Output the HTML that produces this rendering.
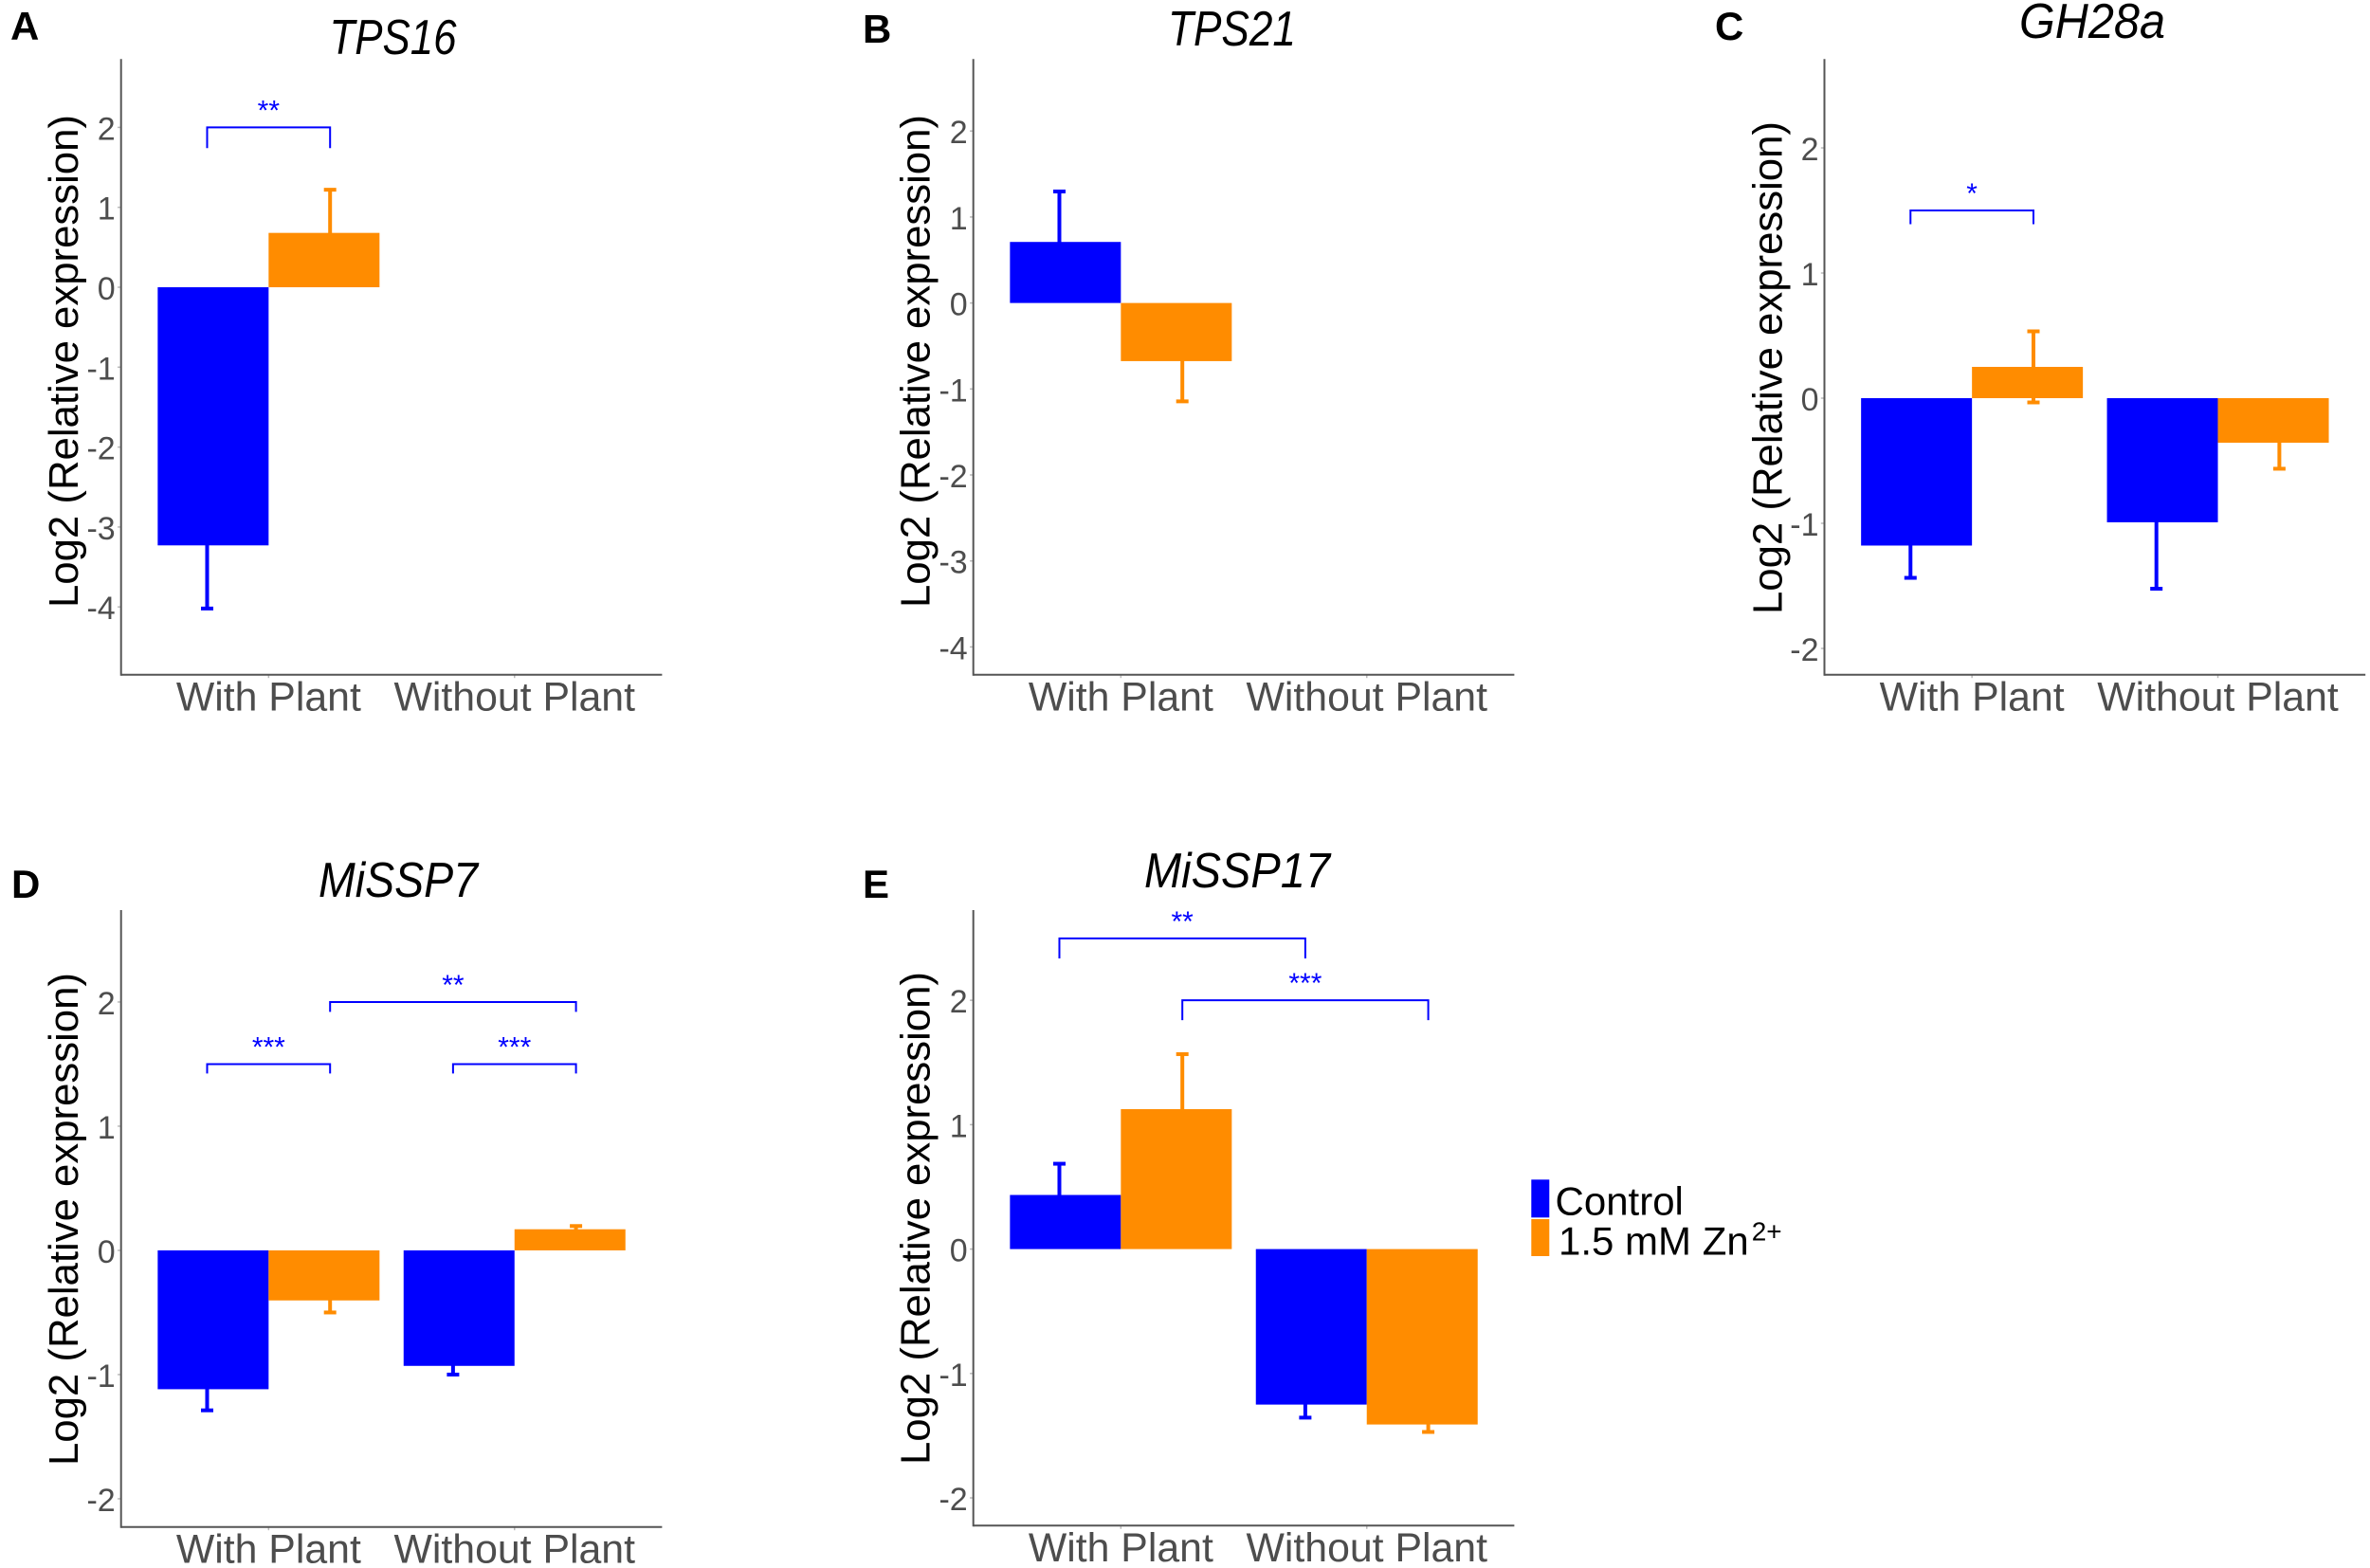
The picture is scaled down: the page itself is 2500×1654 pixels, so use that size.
<!DOCTYPE html>
<html lang="en">
<head>
<meta charset="utf-8">
<title>Log2 relative expression panels</title>
<style>
html,body{margin:0;padding:0;background:#fff;}
svg{display:block;font-family:"Liberation Sans",sans-serif;}
</style>
</head>
<body>
<svg id="figure" xmlns="http://www.w3.org/2000/svg" width="2500" height="1654" viewBox="0 0 2500 1654">
<rect x="0" y="0" width="2500" height="1654" fill="#fff"/>
<g>
<rect x="1615.3" y="1244.3" width="19" height="40" fill="#0000ff"/>
<rect x="1615.3" y="1286" width="19" height="39" fill="#ff8c00"/>
<text x="1640.5" y="1281.7" font-size="42" fill="#000">Control</text>
<text x="1644" y="1323.3" font-size="42" fill="#000">1.5 mM Zn<tspan font-size="28" dx="3" dy="-15">2+</tspan></text>
</g>
</svg>
<script>
// ---- Data ----
const categories = ['With Plant', 'Without Plant'];

const tps16Ticks = ['2', '1', '0', '-1', '-2', '-3', '-4'];
const tps16Control = [-3.23, null];
const tps16Zinc = [0.68, null];
const tps16ControlErr = [0.79, null];
const tps16ZincErr = [0.54, null];

const tps21Ticks = ['2', '1', '0', '-1', '-2', '-3', '-4'];
const tps21Control = [0.71, null];
const tps21Zinc = [-0.676, null];
const tps21ControlErr = [0.587, null];
const tps21ZincErr = [0.468, null];

const gh28aTicks = ['2', '1', '0', '-1', '-2'];
const gh28aControl = [-1.178, -0.992];
const gh28aZinc = [0.25, -0.356];
const gh28aControlErr = [0.258, 0.531];
const gh28aZincErr = [0.284, 0.208];

const missp7Ticks = ['2', '1', '0', '-1', '-2'];
const missp7Control = [-1.118, -0.93];
const missp7Zinc = [-0.403, 0.17];
const missp7ControlErr = [0.17, 0.07];
const missp7ZincErr = [0.097, 0.026];

const missp17Ticks = ['2', '1', '0', '-1', '-2'];
const missp17Control = [0.435, -1.25];
const missp17Zinc = [1.125, -1.41];
const missp17ControlErr = [0.251, 0.105];
const missp17ZincErr = [0.442, 0.06];

// Significance brackets: from / to in category units, height and foot in data units
const tps16BracketFrom = [-0.25];
const tps16BracketTo = [0.25];
const tps16BracketY = [2.0];
const tps16BracketFoot = [1.74];
const tps16BracketStars = ['**'];

const gh28aBracketFrom = [-0.25];
const gh28aBracketTo = [0.25];
const gh28aBracketY = [1.5];
const gh28aBracketFoot = [1.39];
const gh28aBracketStars = ['*'];

const missp7BracketFrom = [-0.25, 0.75, 0.25];
const missp7BracketTo = [0.25, 1.25, 1.25];
const missp7BracketY = [1.5, 1.5, 2.0];
const missp7BracketFoot = [1.424, 1.424, 1.92];
const missp7BracketStars = ['***', '***', '**'];

const missp17BracketFrom = [-0.25, 0.25];
const missp17BracketTo = [0.75, 1.25];
const missp17BracketY = [2.497, 2.0];
const missp17BracketFoot = [2.336, 1.84];
const missp17BracketStars = ['**', '***'];

const BLUE = '#0000ff';
const ORANGE = '#ff8c00';
const SVGNS = 'http://www.w3.org/2000/svg';
const svg = document.getElementById('figure');

function make(parent, tag, attrs) {
  const node = document.createElementNS(SVGNS, tag);
  for (const k in attrs) node.setAttribute(k, attrs[k]);
  parent.appendChild(node);
  return node;
}

function drawPanel(p) {
  const group = make(svg, 'g', {});
  
  

  const band = 259.4;
  const xPos = function (c) { return p.left + (c + 0.6) * band; };
  const yPos = function (v) {
    return p.top + (p.yMax - v) / (p.yMax - p.yMin) * (p.bottom - p.top);
  };

  // panel letter
  const letter = make(group, 'text', { x: p.letterX, y: p.letterY, 'font-size': 42, 'font-weight': 'bold', fill: '#000' });
  letter.textContent = p.letter;
  
  

  // title
  const title = make(group, 'text', {
    x: p.titleX, y: p.titleY, 'font-size': 52, 'font-style': 'italic', fill: '#000',
    textLength: p.titleW, lengthAdjust: 'spacingAndGlyphs'
  });
  title.textContent = p.title;
  
  

  // y title
  const yTitle = make(group, 'text', {
    x: 0, y: 0, 'font-size': 44, fill: '#000',
    transform: 'translate(' + p.yTitleX + ' ' + p.yTitleY + ') rotate(-90)',
    textLength: 520, lengthAdjust: 'spacingAndGlyphs'
  });
  yTitle.textContent = 'Log2 (Relative expression)';
  
  

  // y ticks
  p.ticks.forEach(function (t) {
    const tick = make(group, 'line', {
      x1: p.left - 3.7, x2: p.left, y1: yPos(Number(t)), y2: yPos(Number(t)),
      stroke: '#bbb', 'stroke-width': 1.5
    });
    
    
    const label = make(group, 'text', {
      x: p.left - 6, y: yPos(Number(t)) + 13, 'font-size': 34, fill: '#4d4d4d', 'text-anchor': 'end'
    });
    label.textContent = t;
    
    
  });

  // x categories
  categories.forEach(function (c, i) {
    const tick = make(group, 'line', {
      x1: xPos(i), x2: xPos(i), y1: p.bottom, y2: p.bottom + 3.5, stroke: '#bbb', 'stroke-width': 1.5
    });
    
    
    const label = make(group, 'text', {
      x: xPos(i), y: p.bottom + 37.6, 'font-size': 42.8, fill: '#4d4d4d', 'text-anchor': 'middle'
    });
    label.textContent = c;
    
    
  });

  // error bars (behind the bars)
  function errorBar(cat, offset, mean, err, colour) {
    if (mean === null) return;
    const x = xPos(cat + offset);
    const hi = yPos(mean + err), lo = yPos(mean - err);
    const stem = make(group, 'line', { x1: x, x2: x, y1: hi, y2: lo, stroke: colour, 'stroke-width': 4 });
    
    
    [hi, lo].forEach(function (yy) {
      const cap = make(group, 'line', { x1: x - 6.5, x2: x + 6.5, y1: yy, y2: yy, stroke: colour, 'stroke-width': 4 });
      
      
    });
  }
  categories.forEach(function (c, i) {
    errorBar(i, -0.25, p.control[i], p.controlErr[i], BLUE);
    errorBar(i, 0.25, p.zinc[i], p.zincErr[i], ORANGE);
  });

  // bars
  function bar(cat, from, to, value, colour) {
    if (value === null) return;
    const y0 = yPos(0), y1 = yPos(value);
    const rect = make(group, 'rect', {
      x: xPos(cat + from), width: xPos(cat + to) - xPos(cat + from),
      y: Math.min(y0, y1), height: Math.abs(y1 - y0), fill: colour
    });
    
    
  }
  categories.forEach(function (c, i) {
    bar(i, -0.451, 0, p.control[i], BLUE);
    bar(i, 0, 0.451, p.zinc[i], ORANGE);
  });

  // axes
  const yAxis = make(group, 'line', { x1: p.left, x2: p.left, y1: p.top, y2: p.bottom + 1, stroke: '#555', 'stroke-width': 2 });
  
  
  const xAxis = make(group, 'line', { x1: p.left, x2: p.left + 2.2 * band, y1: p.bottom, y2: p.bottom, stroke: '#555', 'stroke-width': 2 });
  
  

  // brackets
  p.bFrom.forEach(function (f, i) {
    const xa = xPos(f), xb = xPos(p.bTo[i]);
    const yy = yPos(p.bY[i]), ft = yPos(p.bFoot[i]);
    const path = make(group, 'path', {
      d: 'M' + xa + ' ' + ft + 'V' + yy + 'H' + xb + 'V' + ft,
      fill: 'none', stroke: BLUE, 'stroke-width': 2
    });
    
    
    const stars = make(group, 'text', {
      x: (xa + xb) / 2, y: yy - 8, 'font-size': 30, fill: BLUE, 'text-anchor': 'middle'
    });
    stars.textContent = p.bStars[i];
    
    
  });
}

drawPanel({
  key: 'tps16', letter: 'A', letterX: 11, letterY: 42, title: 'TPS16', titleX: 347.5, titleY: 57, titleW: 134,
  left: 127.7, top: 62.3, bottom: 711.7, yMax: 2.855, yMin: -4.848,
  yTitleX: 82, yTitleY: 641, ticks: tps16Ticks,
  control: tps16Control, zinc: tps16Zinc, controlErr: tps16ControlErr, zincErr: tps16ZincErr,
  bFrom: tps16BracketFrom, bTo: tps16BracketTo, bY: tps16BracketY, bFoot: tps16BracketFoot, bStars: tps16BracketStars
});
drawPanel({
  key: 'tps21', letter: 'B', letterX: 910, letterY: 45, title: 'TPS21', titleX: 1232, titleY: 48, titleW: 135,
  left: 1026.7, top: 62.3, bottom: 711.7, yMax: 2.837, yMin: -4.323,
  yTitleX: 980.6, yTitleY: 641, ticks: tps21Ticks,
  control: tps21Control, zinc: tps21Zinc, controlErr: tps21ControlErr, zincErr: tps21ZincErr,
  bFrom: [], bTo: [], bY: [], bFoot: [], bStars: []
});
drawPanel({
  key: 'gh28a', letter: 'C', letterX: 1809, letterY: 42, title: 'GH28a', titleX: 2130, titleY: 40, titleW: 154,
  left: 1924.5, top: 62.3, bottom: 711.7, yMax: 2.71, yMin: -2.21,
  yTitleX: 1879.5, yTitleY: 648, ticks: gh28aTicks,
  control: gh28aControl, zinc: gh28aZinc, controlErr: gh28aControlErr, zincErr: gh28aZincErr,
  bFrom: gh28aBracketFrom, bTo: gh28aBracketTo, bY: gh28aBracketY, bFoot: gh28aBracketFoot, bStars: gh28aBracketStars
});
drawPanel({
  key: 'missp7', letter: 'D', letterX: 12, letterY: 947, title: 'MiSSP7', titleX: 336, titleY: 946, titleW: 168,
  left: 127.7, top: 960, bottom: 1610.7, yMax: 2.74, yMin: -2.227,
  yTitleX: 82, yTitleY: 1546, ticks: missp7Ticks,
  control: missp7Control, zinc: missp7Zinc, controlErr: missp7ControlErr, zincErr: missp7ZincErr,
  bFrom: missp7BracketFrom, bTo: missp7BracketTo, bY: missp7BracketY, bFoot: missp7BracketFoot, bStars: missp7BracketStars
});
drawPanel({
  key: 'missp17', letter: 'E', letterX: 910, letterY: 947, title: 'MiSSP17', titleX: 1207, titleY: 936, titleW: 196,
  left: 1026.7, top: 960, bottom: 1609.3, yMax: 2.725, yMin: -2.223,
  yTitleX: 980.6, yTitleY: 1545, ticks: missp17Ticks,
  control: missp17Control, zinc: missp17Zinc, controlErr: missp17ControlErr, zincErr: missp17ZincErr,
  bFrom: missp17BracketFrom, bTo: missp17BracketTo, bY: missp17BracketY, bFoot: missp17BracketFoot, bStars: missp17BracketStars
});
</script>
</body>
</html>
